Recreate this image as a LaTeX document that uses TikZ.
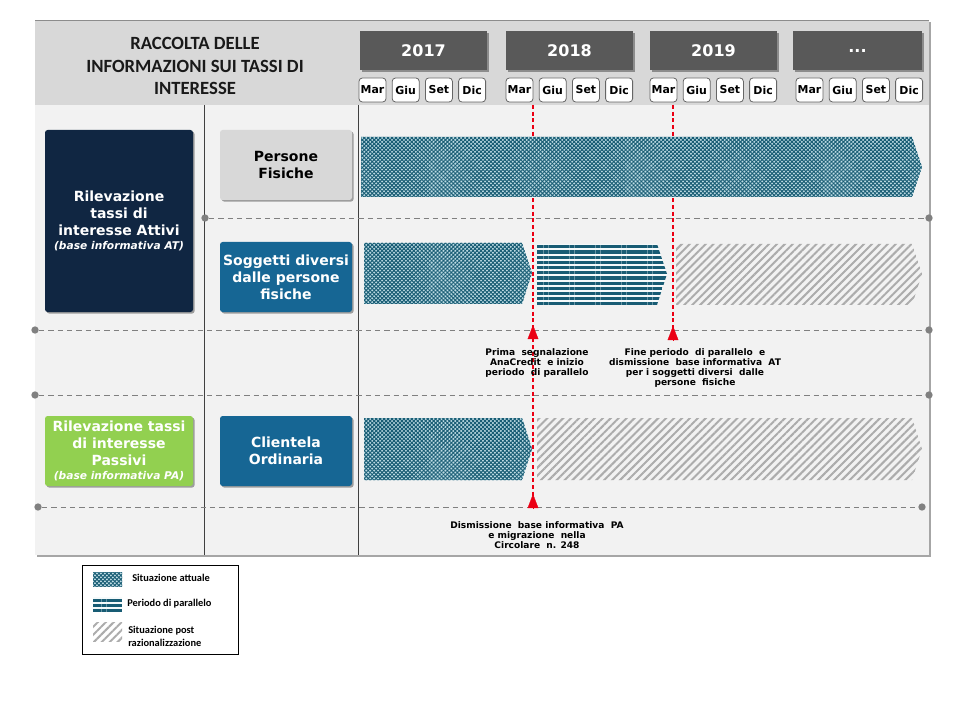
\documentclass[tikz,border=0pt]{standalone}
\usepackage{fontspec}
\setmainfont{DejaVu Sans}
\newfontfamily\calib{Carlito}
\usepackage{tikz}
\usetikzlibrary{arrows.meta, shadows, patterns.meta}
\definecolor{headergray}{RGB}{216,216,216}
\definecolor{panelgray}{RGB}{242,242,242}
\definecolor{yeargray}{RGB}{89,89,89}
\definecolor{navyblue}{RGB}{16,38,66}
\definecolor{petrolblue}{RGB}{22,102,148}
\definecolor{leafgreen}{RGB}{146,208,80}
\definecolor{tealdark}{RGB}{24,92,116}
\definecolor{teallight}{RGB}{190,220,228}
\definecolor{hatchgray}{RGB}{172,172,172}
\definecolor{sepgray}{RGB}{128,128,128}
\definecolor{alertred}{RGB}{235,0,20}

\begin{document}
\begin{tikzpicture}[
    x=0.75pt, y=-0.75pt,
    % Styles
    shade/.style={drop shadow={shadow xshift=1.2pt, shadow yshift=-1.2pt, opacity=.35, fill=black}},
    catbox/.style={fill=#1, rounded corners=2pt, align=center, text=white, inner sep=1pt, minimum width=111pt, font=\bfseries\fontsize{10.5}{12.8}\selectfont, shade},
    subbox/.style={fill=#1, rounded corners=2pt, align=center, text=white, inner sep=1pt, minimum width=99pt, minimum height=52.5pt, font=\bfseries\fontsize{10.5}{12.8}\selectfont, shade},
    yearbox/.style={fill=yeargray, text=white, minimum width=95.25pt, minimum height=29.25pt, font=\bfseries\fontsize{12}{14}\selectfont, shade},
    monthbox/.style={draw=black!60, line width=.6pt, fill=white, rounded corners=2.5pt, minimum width=20.25pt, minimum height=18pt, inner sep=0pt, font=\bfseries\fontsize{8.2}{10}\selectfont},
    note/.style={align=center, font=\bfseries\fontsize{6.8}{7.7}\selectfont},
    legtext/.style={anchor=west, align=left, inner sep=0pt, font=\calib\bfseries\fontsize{7.8}{9.8}\selectfont},
    dot/.style={circle, fill=sepgray, inner sep=0pt, minimum size=5.5pt},
    sep/.style={sepgray, line width=.5pt, dash pattern=on 4pt off 3pt},
    divider/.style={black!75, line width=.6pt},
    redline/.style={color=alertred, line width=.9pt, dash pattern=on 3pt off 2pt},
    redtip/.style={color=alertred, line width=.2pt, -{Triangle[width=8pt, length=10.5pt]}},
    attuale/.style={preaction={fill=teallight}, preaction={pattern={Lines[angle=45, distance=2.1pt, line width=.75pt]}, pattern color=tealdark}, pattern={Lines[angle=-45, distance=2.1pt, line width=.75pt]}, pattern color=tealdark},
    parallelo/.style={preaction={fill=white!85!teallight}, pattern={Lines[angle=0, distance=3.9pt, line width=2.3pt]}, pattern color=tealdark},
    post/.style={pattern={Lines[angle=45, distance=4.2pt, line width=1.5pt]}, pattern color=hatchgray}
]
    \useasboundingbox (0,0) rectangle (960,720);

    % Panel
    \fill[panelgray, shade] (35,20) rectangle (929,555);
    \fill[headergray] (35,20) rectangle (929,105);
    \draw[black!45, line width=.6pt] (35,20) -- (929,20);
    \draw[divider] (204,105) -- (204,555);
    \draw[divider] (358,105) -- (358,555);

    % Title
    \node (title) [align=center, text=black!90, font=\calib\bfseries\fontsize{14}{16.9}\selectfont] at (195,66) {
        RACCOLTA DELLE\\
        INFORMAZIONI SUI TASSI DI\\
        INTERESSE
    };

    % Years and quarters
    \node (y2017) [yearbox] at (423.5,50.5) {2017};
    \node (y2018) [yearbox] at (569.5,50.5) {2018};
    \node (y2019) [yearbox] at (713.5,50.5) {2019};
    \node (ynext) [yearbox, minimum width=96.75pt] at (857.5,50.5) {...};
    \foreach \yr/\xs in {2017/372.5, 2018/519.5, 2019/663.5, next/809.5}
        \foreach \m [count=\i] in {Mar,Giu,Set,Dic}
            \node (\yr-\i) [monthbox] at ({\xs+33.2*(\i-1)},90) {\m};

    % Separators
    \node (d1l) [dot] at (205,218) {};
    \node (d1r) [dot] at (929,218) {};
    \node (d2l) [dot] at (35,330) {};
    \node (d2r) [dot] at (929,330) {};
    \node (d3l) [dot] at (35,395) {};
    \node (d3r) [dot] at (929,395) {};
    \node (d4l) [dot] at (38,507) {};
    \node (d4r) [dot] at (922,507) {};
    \draw [sep] (d1l) -- (d1r);
    \draw [sep] (d2l) -- (d2r);
    \draw [sep] (d3l) -- (d3r);
    \draw [sep] (d4l) -- (d4r);

    % Milestones
    \coordinate (r1top) at (533,105);
    \coordinate (r1tip) at (533,325);
    \coordinate (r1base) at (533,339);
    \coordinate (r1end) at (533,494);
    \coordinate (r1foot) at (533,508);
    \coordinate (r2top) at (673,105);
    \coordinate (r2tip) at (673,326);
    \coordinate (r2base) at (673,340);
    \draw [redline] (r1top) -- (r1foot);
    \draw [redline] (r2top) -- (r2base);
    \draw [redtip] (r1base) -- (r1tip);
    \draw [redtip] (r2base) -- (r2tip);
    \draw [redtip] (r1foot) -- (r1end);

    % Categories
    \node (attivi) [catbox=navyblue, minimum height=136.5pt] at (119,221) {
        Rilevazione\\
        tassi di\\
        interesse Attivi\\[-2pt]
        {\fontsize{8}{9}\selectfont\itshape (base informativa AT)}
    };
    \node (passivi) [catbox=leafgreen, minimum height=52.5pt] at (119,451) {
        Rilevazione tassi\\
        di interesse\\
        Passivi\\[-2pt]
        {\fontsize{8}{9}\selectfont\itshape (base informativa PA)}
    };
    \node (fisiche) [subbox=headergray, text=black] at (286,165) {Persone\\Fisiche};
    \node (soggetti) [subbox=petrolblue] at (286,277) {Soggetti diversi\\dalle persone\\fisiche};
    \node (clientela) [subbox=petrolblue] at (286,451) {Clientela\\Ordinaria};

    % Bars
    \path [attuale] (361,137) -- (912,137) -- (922,167) -- (912,197) -- (361,197) -- cycle;
    \path [attuale] (364,243) -- (522,243) -- (532,273) -- (522,304) -- (364,304) -- cycle;
    \path [parallelo] (537,244) -- (657,244) -- (667,274) -- (657,305) -- (537,305) -- cycle;
    \path [post] (676,244) -- (912,244) -- (922,274) -- (912,305) -- (676,305) -- cycle;
    \path [attuale] (364,418) -- (522,418) -- (532,449) -- (522,480) -- (364,480) -- cycle;
    \path [post] (537,418) -- (912,418) -- (922,449) -- (912,480) -- (537,480) -- cycle;

    % Notes
    \node (n1) [note] at (537,363) {
        Prima~ segnalazione\\
        AnaCredit~ e inizio\\
        periodo~ di parallelo
    };
    \node (n2) [note] at (695,368) {
        Fine periodo~ di parallelo~ e\\
        dismissione~ base informativa~ AT\\
        per i soggetti diversi~ dalle\\
        persone~ fisiche
    };
    \node (n3) [note] at (537,535) {
        Dismissione~ base informativa~ PA\\
        e migrazione~ nella\\
        Circolare~ n. 248
    };

    % Legend
    \node (legend) [draw=black, line width=.6pt, fill=white, minimum width=117pt, minimum height=66.75pt] at (160,609.5) {};
    \path [attuale] (93,572) rectangle (122,586);
    \path [parallelo] (93,597) rectangle (122,611);
    \path [post] (93,622) rectangle (122,641);
    \node (l1) [legtext] at (132,578) {Situazione attuale};
    \node (l2) [legtext] at (127,604) {Periodo di parallelo};
    \node (l3) [legtext] at (128,636) {Situazione post\\razionalizzazione};

\end{tikzpicture}
\end{document}
